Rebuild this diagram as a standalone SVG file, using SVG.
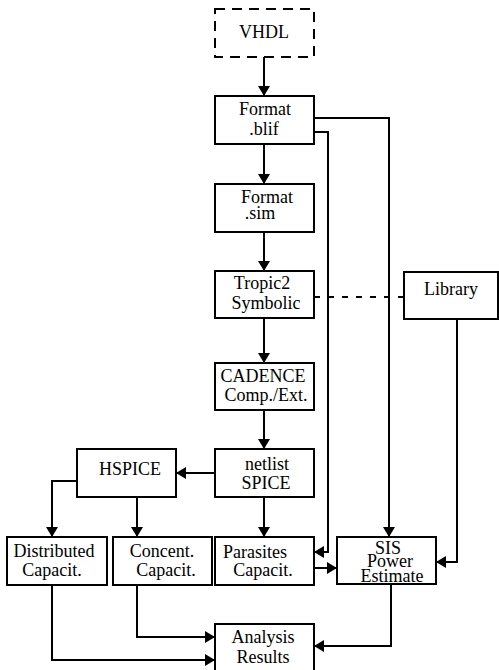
<svg xmlns="http://www.w3.org/2000/svg" width="499" height="670" viewBox="0 0 499 670">
<defs>
<marker id="ah" viewBox="0 0 10 12" refX="10" refY="6" markerWidth="10" markerHeight="12" markerUnits="userSpaceOnUse" orient="auto">
<path d="M0,0 L10,6 L0,12 z" fill="#000"/>
</marker>
<style>
.box{fill:#fff;stroke:#000;stroke-width:2}
.dash{stroke-dasharray:10 7}
.t{font-family:"Liberation Serif","Times New Roman",serif;font-size:18px;fill:#000;text-anchor:middle}
.c{fill:none;stroke:#000;stroke-width:2}
.a{marker-end:url(#ah)}
</style>
</defs>
<rect width="499" height="670" fill="#fff"/>
<g id="connectors">
<path class="c a" d="M264,57 V96"/>
<path class="c a" d="M264,144 V184"/>
<path class="c a" d="M264,232 V271"/>
<path class="c a" d="M264,318 V363"/>
<path class="c a" d="M264,410 V449"/>
<path class="c a" d="M215,473 H176"/>
<path class="c a" d="M264,497 V537"/>
<path class="c a" d="M77,481 H52 V537"/>
<path class="c a" d="M137,497 V537"/>
<path class="c a" d="M314,132 H328 V552 H314"/>
<path class="c a" d="M314,118 H389 V537"/>
<path class="c a" d="M457,319 V562 H436"/>
<path class="c" d="M314,297 H404" stroke-dasharray="6 8"/>
<path class="c a" d="M314,568 H337"/>
<path class="c a" d="M137,585 V637 H215"/>
<path class="c a" d="M52,585 V660 H215"/>
<path class="c a" d="M391,585 V646 H314"/>
</g>
<g id="vhdl"><rect class="box dash" x="215" y="9" width="99" height="48"/><text class="t" x="264" y="38">VHDL</text></g>
<g id="blif"><rect class="box" x="215" y="96" width="99" height="48"/><text class="t" x="265" y="115">Format</text><text class="t" x="264" y="135">.blif</text></g>
<g id="sim"><rect class="box" x="215" y="184" width="99" height="48"/><text class="t" x="267" y="203">Format</text><text class="t" x="260" y="219">.sim</text></g>
<g id="tropic"><rect class="box" x="215" y="271" width="99" height="47"/><text class="t" x="262" y="289">Tropic2</text><text class="t" x="266" y="309">Symbolic</text></g>
<g id="library"><rect class="box" x="404" y="272" width="94" height="47"/><text class="t" x="451" y="295">Library</text></g>
<g id="cadence"><rect class="box" x="215" y="363" width="99" height="47"/><text class="t" x="263" y="382">CADENCE</text><text class="t" x="266" y="401">Comp./Ext.</text></g>
<g id="netlist"><rect class="box" x="215" y="449" width="99" height="48"/><text class="t" x="267" y="470">netlist</text><text class="t" x="266" y="489">SPICE</text></g>
<g id="hspice"><rect class="box" x="77" y="449" width="99" height="48"/><text class="t" x="130" y="475">HSPICE</text></g>
<g id="distributed"><rect class="box" x="7" y="537" width="100" height="48"/><text class="t" x="54" y="557">Distributed</text><text class="t" x="52" y="576">Capacit.</text></g>
<g id="concent"><rect class="box" x="113" y="537" width="99" height="48"/><text class="t" x="162" y="557">Concent.</text><text class="t" x="166" y="576">Capacit.</text></g>
<g id="parasites"><rect class="box" x="215" y="537" width="99" height="48"/><text class="t" x="255" y="558">Parasites</text><text class="t" x="263" y="576">Capacit.</text></g>
<g id="sis"><rect class="box" x="337" y="537" width="99" height="47"/><text class="t" x="388" y="554">SIS</text><text class="t" x="390" y="567">Power</text><text class="t" x="392" y="582">Estimate</text></g>
<g id="analysis"><rect class="box" x="215" y="624" width="99" height="50"/><text class="t" x="263" y="643">Analysis</text><text class="t" x="263" y="663">Results</text></g>
</svg>
